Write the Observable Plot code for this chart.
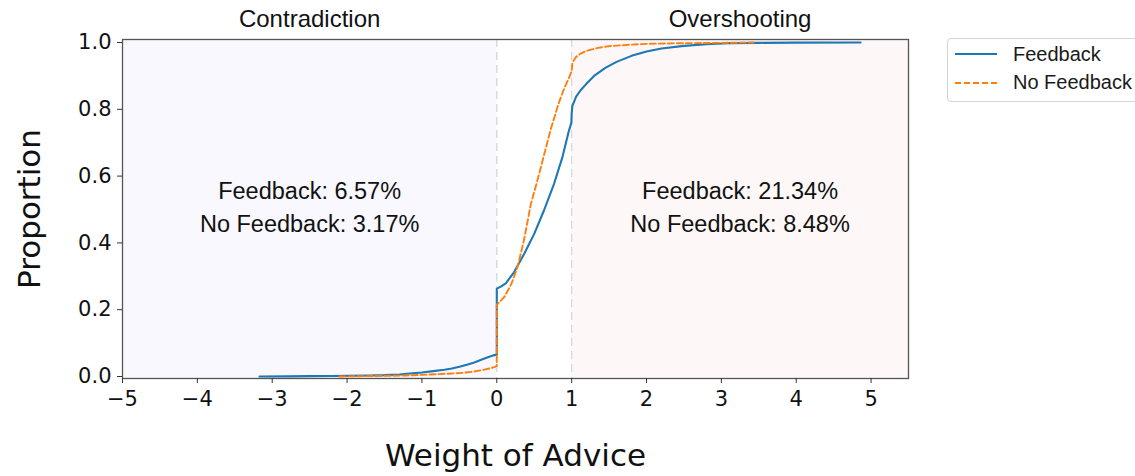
<!DOCTYPE html>
<html>
<head>
<meta charset="utf-8">
<script src="https://cdn.jsdelivr.net/npm/d3@7"></script>
<script src="https://cdn.jsdelivr.net/npm/@observablehq/plot@0.6"></script>
<style>
  body { margin: 0; background: #fff; overflow: hidden; }
  #chart { position: relative; width: 1135px; height: 476px; }
  .legend {
    position: absolute; left: 947px; top: 38px; width: 205px; height: 62px;
    border: 1px solid #d4d4d4; border-radius: 4px; background: #fff;
    font-family: "Liberation Sans", Arial, sans-serif; font-size: 20px; color: #1a1a1a;
  }
  .legend .row { position: absolute; left: 7px; height: 24px; display: flex; align-items: center; }
  .legend .row svg { margin-right: 16px; }
</style>
</head>
<body>
<div id="chart"></div>
<script>
// Empirical cumulative distribution of the weight of advice, per condition
const feedbackWoa = [-3.17, -2.8, -2.5, -2.2, -2.0, -1.7, -1.5, -1.3, -1.2, -1.0, -0.85, -0.7, -0.6, -0.5, -0.4, -0.3, -0.2, -0.1, -0.03, 0, 0, 0.06, 0.12, 0.23, 0.365, 0.5, 0.63, 0.765, 0.877, 0.965, 0.997, 1.0, 1.01, 1.06, 1.12, 1.2, 1.3, 1.45, 1.6, 1.8, 2.0, 2.2, 2.5, 2.8, 3.1, 3.5, 4.0, 4.86];
const feedbackProp = [0, 0.0005, 0.001, 0.0015, 0.002, 0.003, 0.004, 0.006, 0.008, 0.012, 0.016, 0.020, 0.024, 0.029, 0.035, 0.042, 0.051, 0.059, 0.064, 0.0657, 0.263, 0.27, 0.279, 0.312, 0.367, 0.427, 0.497, 0.577, 0.657, 0.737, 0.76, 0.7866, 0.81, 0.838, 0.857, 0.877, 0.9, 0.924, 0.942, 0.96, 0.973, 0.982, 0.99, 0.995, 0.998, 0.999, 0.9995, 1.0];

const noFeedbackWoa = [-2.1, -1.8, -1.5, -1.2, -1.0, -0.8, -0.6, -0.45, -0.3, -0.2, -0.1, -0.02, 0, 0, 0.05, 0.1, 0.15, 0.2, 0.28, 0.365, 0.454, 0.57, 0.72, 0.83, 0.9, 0.97, 1.0, 1.01, 1.06, 1.12, 1.2, 1.35, 1.5, 1.75, 2.0, 2.5, 3.0, 3.43];
const noFeedbackProp = [0, 0.001, 0.002, 0.003, 0.005, 0.007, 0.009, 0.011, 0.015, 0.019, 0.024, 0.029, 0.0317, 0.215, 0.226, 0.238, 0.258, 0.28, 0.33, 0.41, 0.515, 0.61, 0.74, 0.82, 0.862, 0.897, 0.915, 0.94, 0.957, 0.967, 0.975, 0.984, 0.989, 0.993, 0.996, 0.998, 0.999, 1.0];

// Regions of interest and the share of each condition falling inside them (%)
const regionNames = ["Contradiction", "Overshooting"];
const regionStart = [-5, 1];
const regionEnd = [0, 5.5];
const feedbackShare = [6.57, 21.34];
const noFeedbackShare = [3.17, 8.48];

const seriesNames = ["Feedback", "No Feedback"];
const xTicks = [-5, -4, -3, -2, -1, 0, 1, 2, 3, 4, 5];
const yTicks = [0, 0.2, 0.4, 0.6, 0.8, 1.0];
const boundaries = [0, 1];

// Styling
const regionShade = {Contradiction: "#f8f8fe", Overshooting: "#fdf8f7"};
const seriesStyle = {
  "Feedback": {stroke: "#1f77b4", strokeWidth: 2.1, dash: null},
  "No Feedback": {stroke: "#ff7f0e", strokeWidth: 1.9, dash: "6,3"}
};
const labelFont = "'Liberation Sans', Arial, sans-serif";

const feedback = feedbackWoa.map((woa, i) => ({woa, p: feedbackProp[i]}));
const noFeedback = noFeedbackWoa.map((woa, i) => ({woa, p: noFeedbackProp[i]}));
const regions = regionNames.map((name, i) => ({
  name,
  x1: regionStart[i],
  x2: regionEnd[i],
  mid: (regionStart[i] + regionEnd[i]) / 2,
  label: `Feedback: ${feedbackShare[i].toFixed(2)}%\nNo Feedback: ${noFeedbackShare[i].toFixed(2)}%`
}));

const chart = Plot.plot({
  width: 1135,
  height: 476,
  marginLeft: 122,
  marginRight: 227,
  marginTop: 39,
  marginBottom: 98,
  style: {fontFamily: "'DejaVu Sans', sans-serif", background: "transparent", color: "#111"},
  x: {domain: [-5, 5.5]},
  y: {domain: [-0.006, 1.009]},
  marks: [
    ...regions.map(r => Plot.rect([r], {x1: "x1", x2: "x2", fill: regionShade[r.name]})),
    Plot.ruleX(boundaries, {stroke: "#dadada", strokeWidth: 1.5, strokeDasharray: "8,5"}),
    Plot.line(feedback, {x: "woa", y: "p", stroke: seriesStyle["Feedback"].stroke, strokeWidth: seriesStyle["Feedback"].strokeWidth}),
    Plot.line(noFeedback, {x: "woa", y: "p", stroke: seriesStyle["No Feedback"].stroke, strokeWidth: seriesStyle["No Feedback"].strokeWidth, strokeDasharray: seriesStyle["No Feedback"].dash}),
    Plot.frame({stroke: "#555", strokeWidth: 1.3}),
    Plot.axisX({ticks: xTicks, fontSize: 21, tickSize: 5, tickPadding: 8, label: null, stroke: "#333"}),
    Plot.axisY({ticks: yTicks, tickFormat: ".1f", fontSize: 21, tickSize: 5, tickPadding: 6, label: null, stroke: "#333"}),
    Plot.text(["Weight of Advice"], {frameAnchor: "bottom", lineAnchor: "bottom", dy: 87, fontSize: 31}),
    Plot.text(["Proportion"], {frameAnchor: "left", textAnchor: "middle", rotate: -90, dx: -92, fontSize: 31}),
    Plot.text(regions, {x: "mid", frameAnchor: "top", lineAnchor: "bottom", dy: -12.5, text: "name", fontSize: 24, fontFamily: labelFont}),
    Plot.text(regions, {x: "mid", y: 0.5, dy: -5, text: "label", fontSize: 23.5, lineHeight: 1.42, fontFamily: labelFont})
  ]
});

const host = document.getElementById("chart");
host.appendChild(chart);

// Legend box to the right of the axes
const legend = document.createElement("div");
legend.className = "legend";
seriesNames.forEach((name, i) => {
  const s = seriesStyle[name];
  const row = document.createElement("div");
  row.className = "row";
  row.style.top = (3 + i * 28.5) + "px";
  row.innerHTML = `<svg width="42" height="10"><line x1="0" x2="42" y1="5" y2="5" stroke="${s.stroke}" stroke-width="${s.strokeWidth}" ${s.dash ? `stroke-dasharray="${s.dash}"` : ""}/></svg><span>${name}</span>`;
  legend.appendChild(row);
});
host.appendChild(legend);
</script>
</body>
</html>
